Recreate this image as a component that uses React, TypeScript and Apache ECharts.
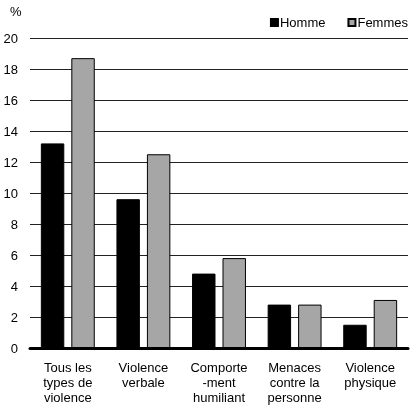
import * as echarts from 'echarts';
import type { EChartsOption } from 'echarts'
import { useEffect, useRef } from 'react'

const categories = [
  'Tous les\ntypes de\nviolence',
  'Violence\nverbale',
  'Comporte\n-ment\nhumiliant',
  'Menaces\ncontre la\npersonne',
  'Violence\nphysique',
]
const hommeValues = [13.2, 9.6, 4.8, 2.8, 1.5]
const femmesValues = [18.7, 12.5, 5.8, 2.8, 3.1]

const font = 'Arial, "Liberation Sans", sans-serif'

const App = () => {
  const chartRef = useRef<HTMLDivElement | null>(null)
  useEffect(() => {
    if (!chartRef.current) return
    const myChart = echarts.init(chartRef.current, null, { renderer: 'svg' })
    const option: EChartsOption = {
      animation: false,
      textStyle: { fontFamily: font },
      grid: { left: 30, right: 11, top: 38, bottom: 70, outerBoundsMode: 'none' } as any,
      title: {
        text: '%',
        left: 5,
        top: 0,
        textStyle: { fontSize: 13, fontWeight: 'normal', color: '#000', fontFamily: font },
      },
      legend: {
        right: 6,
        top: 11,
        icon: 'rect',
        itemWidth: 7,
        itemHeight: 7,
        itemGap: 22,
        textStyle: { fontSize: 13, color: '#000', fontFamily: font, padding: [0, 0, 0, -3] },
        data: ['Homme', 'Femmes'],
      },
      xAxis: {
        type: 'category',
        data: categories,
        axisLine: { lineStyle: { color: '#000', width: 3 } },
        axisTick: { show: false },
        axisLabel: { color: '#000', fontSize: 13, lineHeight: 15, margin: 12, interval: 0, fontFamily: font },
      },
      yAxis: {
        type: 'value',
        min: 0,
        max: 20,
        interval: 2,
        axisLine: { show: false },
        axisTick: { show: false },
        axisLabel: { color: '#000', fontSize: 13, margin: 12, fontFamily: font },
        splitLine: { lineStyle: { color: '#222', width: 1 } },
      },
      series: [
        {
          name: 'Homme',
          type: 'bar',
          data: hommeValues,
          barWidth: '31%',
          barGap: '30%',
          itemStyle: { color: '#000', borderColor: '#000', borderWidth: 1 },
        },
        {
          name: 'Femmes',
          type: 'bar',
          data: femmesValues,
          barWidth: '31%',
          barGap: '30%',
          itemStyle: { color: '#a6a6a6', borderColor: '#000', borderWidth: 1 },
        },
      ],
    }
    myChart.setOption(option)
    return () => {
      myChart.dispose()
    }
  }, [])
  return (
    <div
      ref={chartRef}
      style={{ width: '419px', height: '418px', position: 'fixed', left: 0, top: 0 }}
    ></div>
  )
}

export default App
